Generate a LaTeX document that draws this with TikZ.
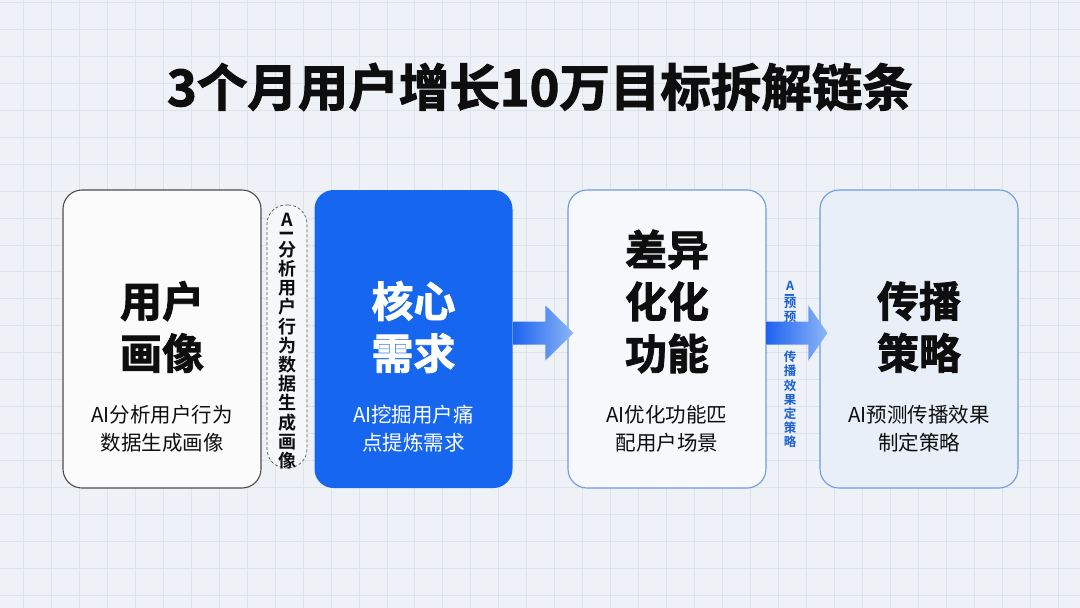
\documentclass[tikz,border=0pt]{standalone}
\usepackage{fontspec}
\usepackage{graphicx}
\newfontfamily\cjk{Noto Sans CJK SC}[BoldFont={* Bold}]
\newfontfamily\cjkheavy{Noto Sans CJK SC}[UprightFont={* Bold}, FakeBold=2]
\usetikzlibrary{calc}
\definecolor{bgc}{HTML}{EEF2F6}
\definecolor{gridc}{HTML}{DCE3EA}
\definecolor{mainblue}{HTML}{1766F0}
\definecolor{bordblue}{HTML}{6C9BE2}
\definecolor{arrdark}{HTML}{1E63F0}
\definecolor{arrlight}{HTML}{8DB6F7}
\definecolor{ink}{HTML}{0E0E0E}
\definecolor{vblue}{HTML}{1A5FD6}
\definecolor{card1fill}{HTML}{FBFBFB}
\definecolor{card3fill}{HTML}{F6F8FC}
\definecolor{card4fill}{HTML}{E8EFF9}
\definecolor{capfill}{HTML}{F6F7F9}
\tikzset{
  card/.style={rounded corners=19pt, minimum width=198pt, minimum height=298pt, inner sep=0pt, line width=1.1pt},
  headtxt/.style={font=\cjkheavy\fontsize{42}{52}\selectfont, align=center, inner sep=0pt},
  subtxt/.style={font=\cjk\fontsize{20.5}{28}\selectfont, align=center, inner sep=0pt},
  gridline/.style={gridc, line width=0.8pt},
  arrowshade/.style={left color=arrdark, right color=arrlight},
  captxt/.style={font=\cjk\bfseries\fontsize{18}{19.2}\selectfont, align=center, inner sep=0pt, text=ink},
  bluetxt/.style={font=\cjk\bfseries\fontsize{12.5}{14.2}\selectfont, align=center, inner sep=0pt, text=vblue},
}
\begin{document}
\begin{tikzpicture}[x=1pt, y=-1pt]
\useasboundingbox (0,0) rectangle (1080,608);
\fill[bgc] (0,0) rectangle (1080,608);
\foreach \i [evaluate=\i as \xx using 23.3+27.97*\i] in {0,...,38} {\draw[gridline] (\xx,0) -- (\xx,608);}
\foreach \j [evaluate=\j as \yy using 2.35+26.95*\j] in {0,...,22} {\draw[gridline] (0,\yy) -- (1080,\yy);}

% title
\node[font=\cjkheavy\fontsize{50.5}{56}\selectfont, text=ink, inner sep=0pt] (title) at (540,87) {3个月用户增长10万目标拆解链条};

% cards
\node[card, draw=black!70, fill=card1fill] (b1) at (162,339) {};
\node[card, fill=mainblue] (b2) at (413.5,339) {};
\node[card, draw=bordblue, fill=card3fill] (b3) at (667,339) {};
\node[card, draw=bordblue, fill=card4fill] (b4) at (919,339) {};

% card texts
\node[headtxt, text=ink] (h1) at (162,327) {用户\\画像};
\node[subtxt, text=ink] (s1) at (162,429) {AI分析用户行为\\数据生成画像};
\node[headtxt, text=white] (h2) at (413.5,327) {核心\\需求};
\node[subtxt, text=white] (s2) at (413.5,429) {AI挖掘用户痛\\点提炼需求};
\node[headtxt, text=ink] (h3) at (667,301.5) {差异\\化化\\功能};
\node[subtxt, text=ink] (s3) at (667,429) {AI优化功能匹\\配用户场景};
\node[headtxt, text=ink] (h4) at (919,327) {传播\\策略};
\node[subtxt, text=ink] (s4) at (919,429) {AI预测传播效果\\制定策略};

% dashed capsule between card 1 and 2
\node[draw=black!65, densely dashed, fill=capfill, rounded corners=19pt, minimum width=40pt, minimum height=263pt, line width=0.7pt, inner sep=0pt] (cap) at (287,336.5) {};
\node[captxt] (capA) at (287,225) {A\\[-9pt]\rotatebox{90}{I}};
\node[captxt, anchor=north] (capT) at (287,241) {分\\析\\用\\户\\行\\为\\数\\据\\生\\成\\画\\像};

% arrow 1 (card 2 -> card 3)
\coordinate (a1s) at (b2.east |- 0,333);
\coordinate (a1e) at ($(b3.west |- 0,333)+(6,0)$);
\shade[arrowshade] ($(a1s)+(0,-11.5)$) -- ($(a1e)+(-28,-11.5)$) -- ($(a1e)+(-28,-27.5)$) -- (a1e) -- ($(a1e)+(-28,27.5)$) -- ($(a1e)+(-28,11.5)$) -- ($(a1s)+(0,11.5)$) -- cycle;

% blue vertical label + arrow 2 (card 3 -> card 4)
\node[bluetxt] (vA) at (790,289) {A\\[-7pt]\rotatebox{90}{I}};
\node[bluetxt, anchor=north] (vT1) at (790,297) {预\\预};
\node[bluetxt, anchor=north] (vT2) at (790,351) {传\\播\\效\\果\\定\\策\\略};
\coordinate (a2s) at (b3.east |- 0,333);
\coordinate (a2e) at ($(b4.west |- 0,333)+(8,0)$);
\shade[arrowshade] ($(a2s)+(0,-11.5)$) -- ($(a2e)+(-19,-11.5)$) -- ($(a2e)+(-19,-27.5)$) -- (a2e) -- ($(a2e)+(-19,27.5)$) -- ($(a2e)+(-19,11.5)$) -- ($(a2s)+(0,11.5)$) -- cycle;
\end{tikzpicture}
\end{document}
